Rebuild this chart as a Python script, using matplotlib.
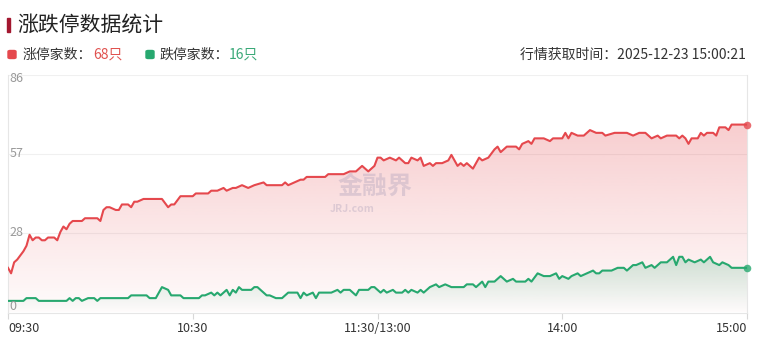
import numpy as np
import matplotlib
matplotlib.use("Agg")
import matplotlib.pyplot as plt
from matplotlib.colors import to_rgb
from matplotlib.patches import FancyBboxPatch

plt.rcParams["font.family"] = ["Noto Sans CJK SC", "DejaVu Sans"]

# minutes since 09:30 (trading minutes, 11:30/13:00 joined)
up_min = [0, 1, 2, 3, 5, 6, 7, 8, 9, 10, 11, 12, 13, 15, 16, 17, 18, 19, 20, 21,
          24, 25, 29, 30, 31, 32, 33, 35, 36, 37, 39, 40, 41, 42, 44, 50, 52, 53, 54, 56,
          60, 61, 65, 66, 68, 70, 71, 73, 74, 76, 78, 80, 83, 84, 89, 90, 91, 93, 95, 96,
          97, 103, 104, 109, 111, 113, 115, 117, 118, 119, 120, 121, 122, 124, 126, 127, 129, 130, 131, 133,
          134, 135, 137, 138, 139, 141, 143, 144, 146, 147, 148, 149, 151, 153, 154, 156, 158, 159, 160, 162,
          165, 166, 167, 169, 170, 171, 174, 176, 177, 180, 181, 182, 183, 185, 187, 189, 191, 192, 193, 194,
          197, 201, 203, 205, 207, 208, 209, 211, 212, 214, 217, 218, 219, 220, 221, 222, 224, 225, 226, 227,
          229, 230, 231, 233, 234, 235, 239, 240]
up_cnt = [16, 14, 18, 19, 22, 24, 28, 26, 27, 27, 26, 26, 27, 27, 26, 29, 31, 30, 32, 33,
          33, 34, 34, 33, 37, 38, 38, 37, 37, 39, 39, 38, 40, 40, 41, 41, 38, 39, 39, 42,
          42, 43, 43, 44, 44, 45, 44, 45, 45, 46, 45, 46, 47, 46, 46, 47, 46, 47, 48, 48,
          49, 49, 50, 50, 51, 51, 53, 51, 52, 53, 56, 56, 55, 56, 55, 56, 54, 54, 56, 55,
          56, 53, 54, 53, 54, 54, 55, 57, 53, 54, 53, 54, 52, 56, 55, 56, 59, 60, 58, 60,
          60, 59, 61, 62, 61, 63, 63, 62, 63, 63, 65, 63, 65, 64, 64, 66, 65, 65, 65, 64,
          65, 65, 64, 65, 65, 64, 63, 64, 63, 64, 64, 63, 64, 63, 61, 63, 63, 65, 64, 65,
          65, 64, 67, 67, 66, 68, 68, 68]

down_min = [0, 5, 6, 9, 10, 19, 20, 21, 22, 23, 24, 26, 28, 29, 30, 39, 40, 45, 46, 48,
            49, 50, 52, 53, 56, 57, 62, 63, 64, 66, 67, 68, 69, 71, 72, 73, 74, 75, 76, 79,
            80, 81, 82, 84, 85, 87, 89, 91, 94, 95, 96, 97, 99, 100, 101, 105, 107, 108, 109, 111,
            113, 114, 117, 118, 119, 121, 122, 123, 125, 126, 128, 129, 130, 131, 133, 134, 135, 137, 139, 140,
            142, 144, 145, 148, 149, 151, 152, 154, 155, 156, 158, 160, 162, 164, 165, 167, 168, 169, 170, 172,
            174, 176, 178, 179, 180, 182, 183, 185, 186, 188, 190, 191, 192, 193, 195, 196, 198, 200, 201, 203,
            204, 206, 207, 209, 210, 212, 213, 214, 216, 217, 218, 219, 220, 221, 223, 225, 226, 228, 229, 231,
            232, 234, 235, 237, 239, 240]
down_cnt = [4, 4, 5, 5, 4, 4, 5, 4, 5, 5, 4, 5, 5, 4, 5, 5, 6, 6, 5, 5,
            7, 9, 8, 6, 6, 5, 5, 6, 6, 7, 6, 7, 6, 8, 6, 8, 7, 9, 8, 8,
            9, 9, 8, 6, 6, 5, 5, 7, 7, 5, 7, 6, 7, 5, 7, 7, 8, 7, 8, 8,
            6, 8, 8, 9, 9, 7, 8, 7, 8, 7, 7, 8, 7, 8, 7, 8, 7, 9, 10, 9,
            10, 9, 9, 9, 10, 10, 9, 11, 9, 11, 11, 13, 11, 12, 11, 11, 11, 12, 11, 14,
            13, 13, 14, 12, 13, 12, 13, 14, 13, 14, 15, 14, 14, 15, 15, 15, 16, 16, 15, 17,
            17, 18, 16, 17, 16, 18, 18, 18, 20, 17, 20, 20, 18, 19, 18, 19, 18, 20, 18, 17,
            18, 17, 16, 16, 16, 16]

tick_min = [0, 60, 120, 180, 240]
tick_labels = ["09:30", "10:30", "11:30/13:00", "14:00", "15:00"]
y_ticks = [0, 86 / 3, 86 * 2 / 3, 86]
y_labels = ["0", "28", "57", "86"]
y_label_pos = [1.8, 86 / 3, 86 * 2 / 3, 84.8]

RED = "#e5484d"
GREEN = "#27a86f"


def gradient_fill(ax, x, y, color, a_top, a_bot, ytop):
    poly = ax.fill_between(x, y, 0, facecolor="none", edgecolor="none")
    rgb = to_rgb(color)
    n = 256
    grad = np.zeros((n, 1, 4))
    grad[:, 0, :3] = rgb
    grad[:, 0, 3] = np.linspace(a_top, a_bot, n)
    im = ax.imshow(grad, aspect="auto", extent=[x[0], x[-1], 0, ytop],
                   origin="upper", zorder=1, interpolation="bilinear")
    im.set_clip_path(poly.get_paths()[0], transform=ax.transData)


fig = plt.figure(figsize=(7.59, 3.47), dpi=100)
W, H = 759, 347
ax = fig.add_axes([8 / W, 1 - 313 / H, (747 - 8) / W, (313 - 75) / H])

ax.set_xlim(0, 240)
ax.set_ylim(-0.4, 86)

gradient_fill(ax, up_min, up_cnt, RED, 0.27, 0.02, max(up_cnt))
gradient_fill(ax, down_min, down_cnt, GREEN, 0.22, 0.0, max(down_cnt))

ax.plot(up_min, up_cnt, color=RED, lw=1.5, zorder=4)
ax.plot(down_min, down_cnt, color=GREEN, lw=1.5, zorder=4)
ax.scatter([up_min[-1]], [up_cnt[-1]], s=30, color=RED, alpha=0.8, zorder=5, clip_on=False, lw=0)
ax.scatter([down_min[-1]], [down_cnt[-1]], s=30, color=GREEN, alpha=0.8, zorder=5, clip_on=False, lw=0)

# grid
for yv in y_ticks[1:]:
    ax.axhline(yv, color="#f0f0f0", lw=0.8, zorder=0)

ax.spines["top"].set_visible(False)
for side in ["left", "right", "bottom"]:
    ax.spines[side].set_color("#e6e6e6")
    ax.spines[side].set_linewidth(0.8)
ax.set_yticks([])
ax.set_xticks(tick_min)
ax.set_xticklabels([])
ax.tick_params(axis="x", length=4, color="#d8d8d8", width=0.8)

for i, (m, lab) in enumerate(zip(tick_min, tick_labels)):
    ha = "left" if i == 0 else ("right" if i == len(tick_min) - 1 else "center")
    ax.text(m, -3.5, lab, ha=ha, va="top", fontsize=9, color="#333333")

# y labels drawn inside the plot
for yv, lab in zip(y_label_pos, y_labels):
    ax.text(0.6, yv, lab, ha="left", va="center", fontsize=9, color="#999999", zorder=6)

# watermark
fig.text(375 / W, 1 - 187 / H, "金融界", ha="center", va="center", fontsize=18,
         fontweight="bold", color="#b3a5bd", alpha=0.4)
fig.text(330 / W, 1 - 209 / H, "JRJ.com", ha="left", va="center", fontsize=7.5,
         fontweight="bold", color="#b3a5bd", alpha=0.4)

# title
fig.patches.append(plt.Rectangle((7 / W, 1 - 32 / H), 3 / W, 14 / H,
                                 transform=fig.transFigure, color="#a3172f"))
fig.text(17 / W, 1 - 25 / H, "涨跌停数据统计", ha="left", va="center",
         fontsize=15, color="#222222")

# legend row
ly = 1 - 55 / H
for x0, c in [(8, RED), (146, GREEN)]:
    fig.patches.append(FancyBboxPatch((x0 / W, 1 - 58.5 / H), 8 / W, 8 / H,
                                      boxstyle="round,pad=0,rounding_size=0.003",
                                      transform=fig.transFigure, color=c))
fig.text(23 / W, ly, "涨停家数：", ha="left", va="center", fontsize=10, color="#333333")
fig.text(93 / W, ly, "68只", ha="left", va="center", fontsize=10, color="#e0524f")
fig.text(159 / W, ly, "跌停家数：", ha="left", va="center", fontsize=10, color="#333333")
fig.text(229 / W, ly, "16只", ha="left", va="center", fontsize=10, color="#3aa978")
fig.text(746 / W, ly, "行情获取时间：2025-12-23 15:00:21", ha="right", va="center",
         fontsize=10, color="#333333")

fig.savefig("out.png", dpi=100)
